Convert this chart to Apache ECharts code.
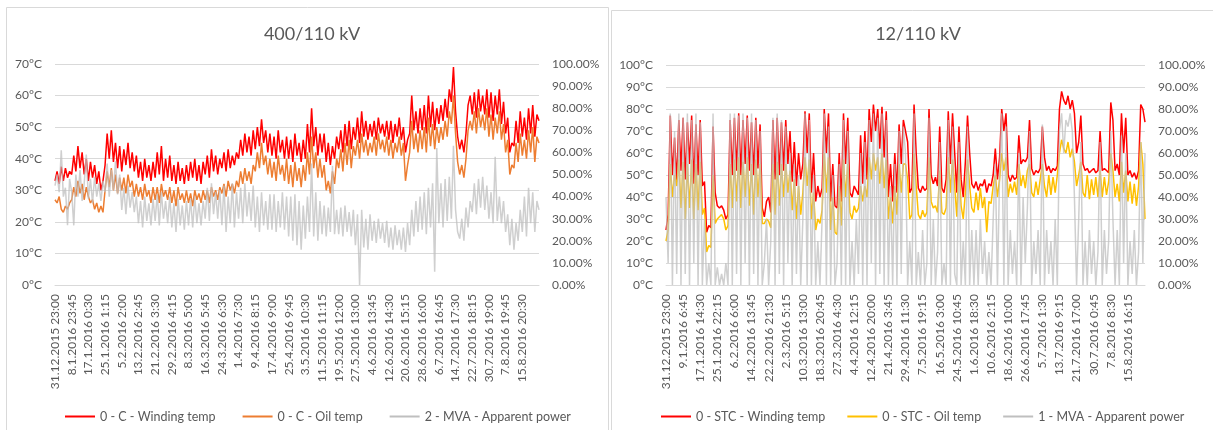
<!DOCTYPE html>
<html>
<head>
<meta charset="utf-8">
<script src="https://cdn.jsdelivr.net/npm/echarts@6/dist/echarts.min.js"></script>
<style>
  html, body { margin: 0; padding: 0; background: #fff; }
  #main { width: 1213px; height: 430px; }
</style>
</head>
<body>
<div id="main"></div>
<script>
// tick labels on the x axis (one every 8 samples)
var leftLabels = ['31.12.2015 23:00','8.1.2016 23:45','17.1.2016 0:30','25.1.2016 1:15','5.2.2016 2:00','13.2.2016 2:45','21.2.2016 3:30','29.2.2016 4:15','8.3.2016 5:00','16.3.2016 5:45','24.3.2016 6:30','1.4.2016 7:30','9.4.2016 8:15','17.4.2016 9:00','25.4.2016 9:45','3.5.2016 10:30','11.5.2016 11:15','19.5.2016 12:00','27.5.2016 13:00','4.6.2016 13:45','12.6.2016 14:30','20.6.2016 15:15','28.6.2016 16:00','6.7.2016 16:45','14.7.2016 17:30','22.7.2016 18:15','30.7.2016 19:00','7.8.2016 19:45','15.8.2016 20:30'];
var rightLabels = ['31.12.2015 23:00','9.1.2016 6:45','17.1.2016 14:30','25.1.2016 22:15','6.2.2016 6:00','14.2.2016 13:45','22.2.2016 21:30','2.3.2016 5:15','10.3.2016 13:00','18.3.2016 20:45','27.3.2016 4:30','4.4.2016 12:15','12.4.2016 20:00','21.4.2016 3:45','29.4.2016 11:30','7.5.2016 19:15','16.5.2016 3:00','24.5.2016 10:45','1.6.2016 18:30','10.6.2016 2:15','18.6.2016 10:00','26.6.2016 17:45','5.7.2016 1:30','13.7.2016 9:15','21.7.2016 17:00','30.7.2016 0:45','7.8.2016 8:30','15.8.2016 16:15'];

// 400/110 kV: winding °C, oil °C, apparent power %
var leftWinding = [
  33,36,32,37.5,33,37,34,36,  35,41,36,44,37,42,35,40,  33,39,34,38,32,36,30,33,
  38,48,40,49,39,45,37,44,    36,43,38,45,37,42,36,41,  34,39,33,40,34,38,33,39,
  34,42,35,44,33,40,34,41,    33,38,32,39,33,37,32,38,  33,39,34,40,33,38,32,39,
  35,41,34,43,36,41,35,40,    37,42,36,43,37,41,38,42,  40,46,41,48,42,47,41,49,
  43,50,44,52.5,45,49,42,48,  41,47,40,49,42,46,40,47,  40,46,39,48,41,45,39,46,
  40,51,42,56,44,50,41,48,    42,48,39,45,38,44,40,47,  43,49,42,51,44,52,43,50,
  46,53,45,55,47,52,46,51,    47,52,46,53,48,51,47,52,  46,52,45,51,47,53,46,50,
  42,46,48,60,49,55,48,56,    49,57,48,60,50,58,49,56,  51,57,52,59,53,62,58,69,
  55,47,43,46,42,48,57,60,    54,61,53,62,55,60,54,62,  53,61,52,60,54,62,51,58,
  48,53,42,45,44,52,45,55,    47,53,46,56,48,57,47,54,52];
var leftOil = [
  27,26,28,24,23,25,24,26,  27,31,28,33,29,32,27,31,  28,26,27,24,26,23,25,23,
  30,36,31,37,30,35,29,34,  30,34,29,35,31,33,28,32,  28,31,27,32,28,30,26,31,
  27,31,26,32,28,30,27,31,  26,30,25,31,27,29,26,30,  26,29,25,30,27,29,26,30,
  27,30,26,31,28,30,27,31,  29,32,28,33,30,32,29,33,  31,36,32,37,33,36,32,38,
  36,42,37,45,38,41,35,40,  34,39,33,41,35,38,33,40,  32,38,31,39,33,37,31,38,
  33,42,35,47,37,42,34,40,  34,38,30,33,29,36,32,40,  37,43,36,45,38,46,37,44,
  41,46,40,48,42,46,41,45,  42,47,41,48,43,46,42,47,  41,46,40,45,42,47,41,45,
  33,38,42,52,43,48,42,49,  43,50,42,53,44,51,43,50,  45,50,46,52,47,55,51,60,
  48,39,35,38,34,40,49,52,  49,55,48,56,50,54,49,56,  47,54,46,53,48,55,46,51,
  42,46,35,38,37,45,39,48,  41,46,40,49,42,50,39,47,45];
var leftPower = [
  45,50,42,61,40,44,27,48,  42,27,50,40,52,38,46,59,  39,48,37,49,40,46,38,47,
  42,55,40,52,43,56,41,50,  34,44,32,45,35,42,33,40,  28,38,26,40,29,37,27,39,
  29,41,27,42,30,38,28,40,  26,37,24,39,27,36,25,38,  27,39,26,40,28,37,27,38,
  30,44,29,46,32,42,30,43,  27,45,24,40,28,46,26,42,  30,44,28,46,31,42,29,45,
  26,40,24,42,27,38,25,41,  25,41,24,38,26,42,25,40,  22,40,20,41,18,38,16,36,
  21,40,24,55,22,42,20,38,  23,36,22,35,24,54,23,34,  23,35,22,36,24,33,22,34,
  18,32,0,34,17,30,16,32,   20,29,19,30,21,28,19,29,  17,26,16,27,18,25,16,26,
  15,28,18,34,22,38,24,40,  25,42,23,44,26,46,6,62,   28,46,26,48,29,49,30,63,
  34,24,21,30,20,35,26,38,  33,46,32,48,35,49,34,45,  30,42,28,58,29,40,28,38,
  24,32,18,30,16,28,20,34,  24,40,22,44,28,42,24,38,34];

// 12/110 kV: winding °C, oil °C, apparent power %
var rightWinding = [
  25,32,77,50,67,47,75,52,  76,48,74,55,77,46,73,50,  75,45,47,24,27,26,72,42,
  36,35,36,34,30,32,75,50,  76,52,78,50,75,55,77,52,  74,50,76,53,73,35,31,38,
  40,33,75,48,76,50,74,52,  75,55,70,47,65,45,60,48,  55,79,60,78,42,60,38,45,
  40,44,80,60,78,38,55,36,  35,60,38,78,55,76,42,40,  45,43,41,68,46,70,48,80,
  65,82,70,80,62,81,58,79,  40,55,38,60,42,73,55,75,  70,65,42,44,82,60,44,42,
  45,43,44,80,50,46,49,45,  72,44,42,48,79,55,78,60,  42,72,48,40,56,77,60,46,
  44,47,43,46,45,48,42,46,  45,50,62,48,58,80,70,78,  50,47,50,48,49,68,55,57,
  56,58,75,53,50,52,51,53,  72,58,52,54,51,53,52,54,  80,88,84,82,86,80,84,78,
  60,65,77,55,52,53,51,52,  53,51,52,70,52,53,52,51,  83,75,52,55,50,78,60,76,
  50,52,49,51,48,52,82,80,  74];
var rightOil = [
  20,25,55,40,50,45,57,35,  56,30,55,35,57,30,55,34,  56,32,35,15,18,17,50,28,
  30,31,32,30,25,27,55,35,  57,38,58,35,56,40,58,36,  55,32,57,40,55,28,28,30,
  29,26,55,32,56,36,55,40,  55,42,52,34,48,30,45,32,  42,58,45,57,30,42,25,30,
  28,34,60,42,58,25,40,24,  23,45,27,57,40,55,33,30,  36,33,35,45,38,45,40,58,
  48,60,52,58,46,60,44,57,  30,40,28,45,32,55,42,55,  55,48,30,32,60,45,32,30,
  34,31,33,58,38,35,36,33,  52,33,32,35,58,42,57,45,  31,55,36,30,42,57,45,35,
  33,42,34,44,35,40,24,38,  37,45,50,40,48,60,52,58,  40,46,42,47,41,55,45,50,
  44,52,55,42,40,47,41,48,  55,45,40,50,41,49,42,50,  60,66,62,60,65,58,62,56,
  45,50,56,42,40,50,39,48,  41,49,40,52,40,49,41,47,  60,52,40,46,38,56,42,52,
  38,47,37,46,36,45,65,55,  30];
var rightPower = [
  40,10,78,0,70,5,78,0,   76,5,78,0,75,10,78,0,   74,0,30,0,10,0,78,0,
  8,0,5,0,10,0,78,0,      78,5,77,0,78,10,76,0,   78,5,75,0,70,0,10,30,
  0,20,76,0,78,5,75,0,    72,10,60,0,55,5,50,0,   30,78,0,75,0,50,0,20,
  0,30,78,0,72,0,50,0,    10,55,0,75,0,70,0,20,   0,30,5,60,0,65,0,75,
  10,78,0,76,5,78,0,75,   0,45,0,55,0,70,5,72,    60,0,20,0,78,0,15,0,
  25,0,10,76,0,30,0,15,   65,0,10,0,75,0,72,5,    0,65,0,20,0,72,0,25,
  0,25,0,30,5,20,0,15,    0,30,55,0,50,78,0,72,   0,25,5,20,0,60,0,40,
  10,35,70,0,20,5,25,0,   73,0,25,5,20,0,30,0,    70,78,60,75,72,78,70,40,
  0,30,65,0,20,0,25,5,    20,0,15,65,0,25,5,20,   70,30,0,25,0,68,10,60,
  0,20,5,25,0,15,65,10,   60];

// one category per sample, a label on every 8th
function makeCategories(labels, count) {
  var out = [];
  labels.forEach(function (l) { out.push(l, '', '', '', '', '', '', ''); });
  while (out.length < count) out.push('');
  return out.slice(0, count);
}

var FONT = 'Lato';
var TXT = '#595959';
var GRID = '#d9d9d9';

function xAxisFor(idx, cats) {
  return {
    type: 'category', gridIndex: idx, data: cats, boundaryGap: false,
    axisLine: { lineStyle: { color: GRID } },
    axisTick: { show: false },
    axisLabel: { interval: 7, rotate: 90, margin: 9, color: TXT, fontFamily: FONT, fontSize: 12 }
  };
}
function tempAxis(idx, max) {
  return {
    type: 'value', gridIndex: idx, min: 0, max: max, interval: 10, position: 'left',
    axisLine: { show: false }, axisTick: { show: false },
    splitLine: { lineStyle: { color: GRID } },
    axisLabel: { formatter: '{value}°C', margin: 13, color: TXT, fontFamily: FONT, fontSize: 12 }
  };
}
function pctAxis(idx) {
  return {
    type: 'value', gridIndex: idx, min: 0, max: 100, interval: 10, position: 'right',
    axisLine: { show: false }, axisTick: { show: false }, splitLine: { show: false },
    axisLabel: { formatter: function (v) { return v.toFixed(2) + '%'; }, margin: 13, color: TXT, fontFamily: FONT, fontSize: 12 }
  };
}
function line(name, data, color, xi, yi, opacity) {
  return {
    name: name, type: 'line', data: data, xAxisIndex: xi, yAxisIndex: yi,
    showSymbol: false, symbol: 'none', animation: false, color: color,
    lineStyle: { width: 1.5, color: color, opacity: opacity || 1 }
  };
}

var chart = echarts.init(document.getElementById('main'));
var legendText = { color: TXT, fontFamily: FONT, fontSize: 12.5 };

chart.setOption({
  backgroundColor: '#fff',
  animation: false,
  graphic: [
    { type: 'rect', shape: { x: 6.5, y: 7.5, width: 602, height: 440 }, style: { fill: 'none', stroke: '#d9d9d9', lineWidth: 1 } },
    { type: 'rect', shape: { x: 611.5, y: 10.5, width: 620, height: 440 }, style: { fill: 'none', stroke: '#d9d9d9', lineWidth: 1 } }
  ],
  title: [
    { text: '400/110 kV', left: 307, top: 20, textAlign: 'center', textStyle: { color: TXT, fontFamily: FONT, fontSize: 18, fontWeight: 'normal' } },
    { text: '12/110 kV', left: 913, top: 20, textAlign: 'center', textStyle: { color: TXT, fontFamily: FONT, fontSize: 18, fontWeight: 'normal' } }
  ],
  legend: [
    { data: ['0 - C - Winding temp', '0 - C - Oil temp', '2 - MVA - Apparent power'], left: 60, top: 405, width: 560,
      icon: 'rect', itemWidth: 30, itemHeight: 2, itemGap: 27, textStyle: legendText },
    { data: ['0 - STC - Winding temp', '0 - STC - Oil temp', '1 - MVA - Apparent power'], left: 656, top: 405, width: 556,
      icon: 'rect', itemWidth: 30, itemHeight: 2, itemGap: 22, textStyle: legendText }
  ],
  grid: [
    { left: 55, right: 1213 - 539, top: 64, bottom: 430 - 285 },
    { left: 666, right: 1213 - 1145, top: 65, bottom: 430 - 285 }
  ],
  xAxis: [
    xAxisFor(0, makeCategories(leftLabels, leftWinding.length)),
    xAxisFor(1, makeCategories(rightLabels, rightWinding.length))
  ],
  yAxis: [tempAxis(0, 70), pctAxis(0), tempAxis(1, 100), pctAxis(1)],
  series: [
    line('0 - C - Winding temp', leftWinding, '#ff0000', 0, 0),
    line('0 - C - Oil temp', leftOil, '#ed7d31', 0, 0),
    line('2 - MVA - Apparent power', leftPower, '#bfbfbf', 0, 1, 0.75),
    line('0 - STC - Winding temp', rightWinding, '#ff0000', 1, 2),
    line('0 - STC - Oil temp', rightOil, '#ffc000', 1, 2),
    line('1 - MVA - Apparent power', rightPower, '#bfbfbf', 1, 3, 0.75)
  ]
});
</script>
</body>
</html>
